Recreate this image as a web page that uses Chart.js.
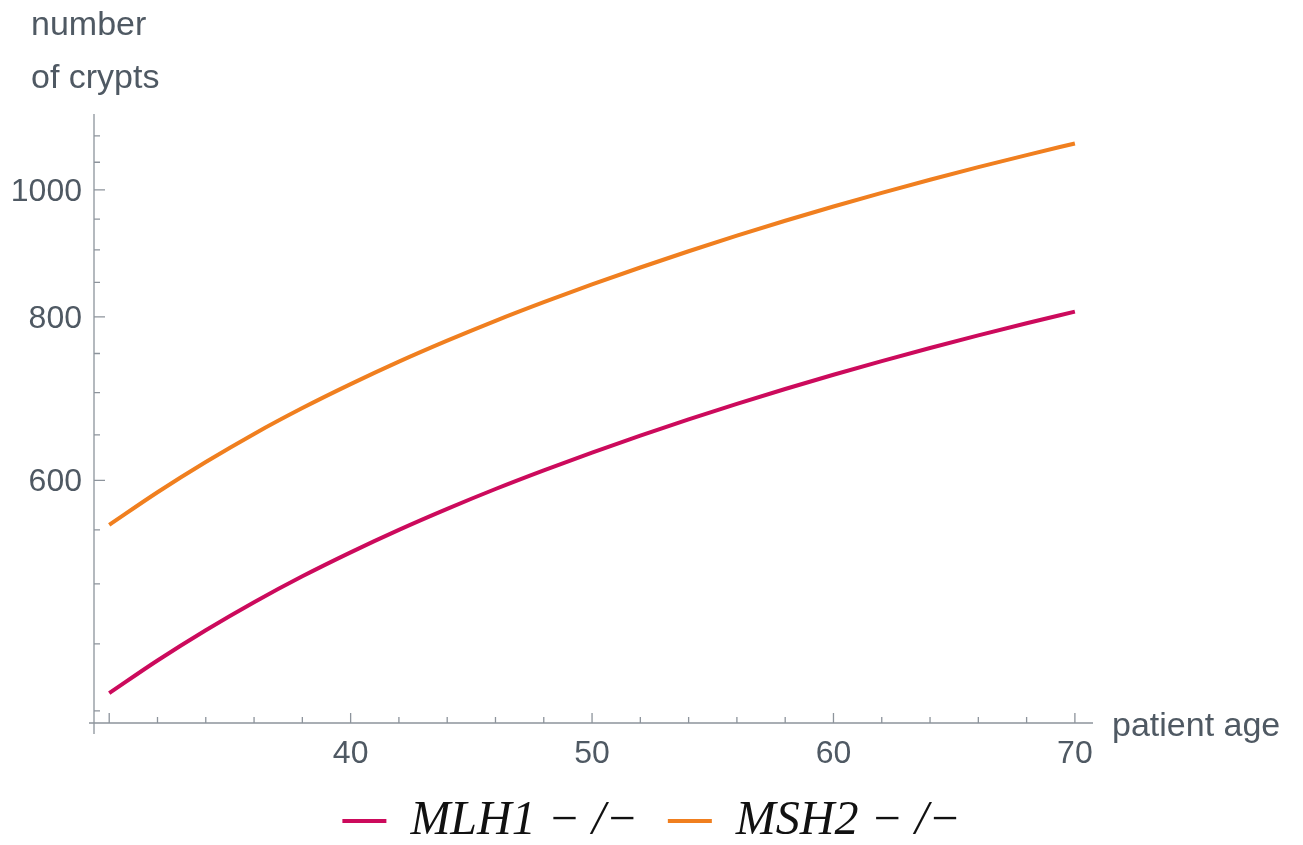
<!DOCTYPE html>
<html>
<head>
<meta charset="utf-8">
<script src="https://cdn.jsdelivr.net/npm/chart.js@4.4.0/dist/chart.umd.min.js"></script>
<style>
    html, body { margin: 0; padding: 0; background: #fff; }
    #wrap { width: 1303px; height: 845px; }
</style>
</head>
<body>
<div id="wrap"><canvas id="chart" width="1303" height="845"></canvas></div>
<script>
// patient age (years) and number of crypts
const ages = [30, 32, 34, 36, 38, 40, 42, 44, 46, 48, 50, 52, 54, 56, 58, 60, 62, 64, 66, 68, 70];
const mlh1 = [412.6, 437.0, 460.9, 484.2, 506.8, 528.6, 549.9, 570.6, 590.9, 610.6, 630.0,
              649.0, 667.8, 686.3, 704.6, 722.5, 740.0, 757.3, 774.3, 790.9, 807.3];
const msh2 = [554.7, 587.5, 619.6, 651.0, 681.3, 710.6, 739.3, 767.1, 794.4, 820.9, 847.0,
              872.5, 897.8, 922.7, 947.3, 971.3, 994.9, 1018.1, 1041.0, 1063.3, 1085.3];
const seriesNames = ['MLH1 \u2212 /\u2212', 'MSH2 \u2212 /\u2212'];

const xTickValues = [30, 32, 34, 36, 38, 40, 42, 44, 46, 48, 50, 52, 54, 56, 58, 60, 62, 64, 66, 68, 70];
const xLabelValues = [40, 50, 60, 70];
const yTickValues = [400, 450, 500, 550, 600, 650, 700, 750, 800, 850, 900, 950, 1000, 1050, 1100];
const yLabelValues = [600, 800, 1000];

const textColor = '#4f5963';
const axisColor = '#8d949c';

const axesPlugin = {
    id: 'axesPlugin',
    afterDraw(chart) {
        const { ctx, chartArea, scales: { x, y } } = chart;
        ctx.save();
        ctx.strokeStyle = axisColor;
        ctx.lineWidth = 1.3;

        ctx.beginPath();
        ctx.moveTo(chartArea.left, chartArea.top);
        ctx.lineTo(chartArea.left, chartArea.bottom + 11);
        ctx.moveTo(chartArea.left - 5, chartArea.bottom);
        ctx.lineTo(chartArea.right, chartArea.bottom);

        yTickValues.forEach(v => {
            const py = y.getPixelForValue(v);
            const len = yLabelValues.includes(v) ? 11 : 6;
            ctx.moveTo(chartArea.left, py);
            ctx.lineTo(chartArea.left + len, py);
        });
        xTickValues.forEach(v => {
            const px = x.getPixelForValue(v);
            const len = v % 10 === 0 ? 10 : 6;
            ctx.moveTo(px, chartArea.bottom);
            ctx.lineTo(px, chartArea.bottom - len);
        });
        ctx.stroke();

        ctx.fillStyle = textColor;
        ctx.font = '34px "Liberation Sans"';
        ctx.textAlign = 'left';
        ctx.textBaseline = 'alphabetic';
        ctx.fillText('number', 31, 35);
        ctx.fillText('of crypts', 31, 88);
        ctx.fillText('patient age', chartArea.right + 19, chartArea.bottom + 13);
        ctx.restore();
    }
};

const canvas = document.getElementById('chart');

new Chart(canvas, {
    type: 'line',
    data: {
        datasets: [
            {
                label: seriesNames[0],
                data: ages.map((a, i) => ({ x: a, y: mlh1[i] })),
                borderColor: '#cc0a5c',
                backgroundColor: '#cc0a5c',
                borderWidth: 4,
                pointRadius: 0,
                cubicInterpolationMode: 'monotone',
                fill: false
            },
            {
                label: seriesNames[1],
                data: ages.map((a, i) => ({ x: a, y: msh2[i] })),
                borderColor: '#f07f1f',
                backgroundColor: '#f07f1f',
                borderWidth: 4,
                pointRadius: 0,
                cubicInterpolationMode: 'monotone',
                fill: false
            }
        ]
    },
    plugins: [axesPlugin],
    options: {
        responsive: false,
        animation: false,
        devicePixelRatio: 1,
        layout: { padding: { top: 114, left: 0, right: 0, bottom: 0 } },
        plugins: {
            tooltip: { enabled: false },
            legend: {
                position: 'bottom',
                maxHeight: 78,
                labels: {
                    color: '#111',
                    font: { family: 'Liberation Serif', style: 'italic', size: 48 },
                    boxWidth: 44,
                    boxHeight: 4,
                    padding: 30,
                    generateLabels: chart => Chart.defaults.plugins.legend.labels.generateLabels(chart)
                        .map(item => ({ ...item, lineWidth: 0 }))
                }
            }
        },
        scales: {
            x: {
                type: 'linear',
                min: 29.37,
                max: 70.75,
                grid: { display: false, drawTicks: false },
                border: { display: false },
                afterBuildTicks: scale => { scale.ticks = xTickValues.map(v => ({ value: v })); },
                afterFit: scale => { scale.height = 44; },
                ticks: {
                    autoSkip: false,
                    maxRotation: 0,
                    padding: 12,
                    color: textColor,
                    font: { family: 'Liberation Sans', size: 32 },
                    callback: v => xLabelValues.includes(v) ? String(v) : ''
                }
            },
            y: {
                type: 'logarithmic',
                min: 391.5,
                max: 1143,
                grid: { display: false, drawTicks: false },
                border: { display: false },
                afterBuildTicks: scale => { scale.ticks = yTickValues.map(v => ({ value: v })); },
                afterFit: scale => { scale.width = 94; },
                ticks: {
                    autoSkip: false,
                    padding: 12,
                    labelOffset: 2,
                    color: textColor,
                    font: { family: 'Liberation Sans', size: 32 },
                    callback: v => yLabelValues.includes(v) ? String(v) : ''
                }
            },
            // empty box on the right that leaves room for the "patient age" label
            gutter: {
                type: 'linear',
                position: 'right',
                grid: { display: false, drawTicks: false },
                border: { display: false },
                ticks: { display: false },
                afterFit: scale => { scale.width = 210; }
            }
        }
    }
});
</script>
</body>
</html>
